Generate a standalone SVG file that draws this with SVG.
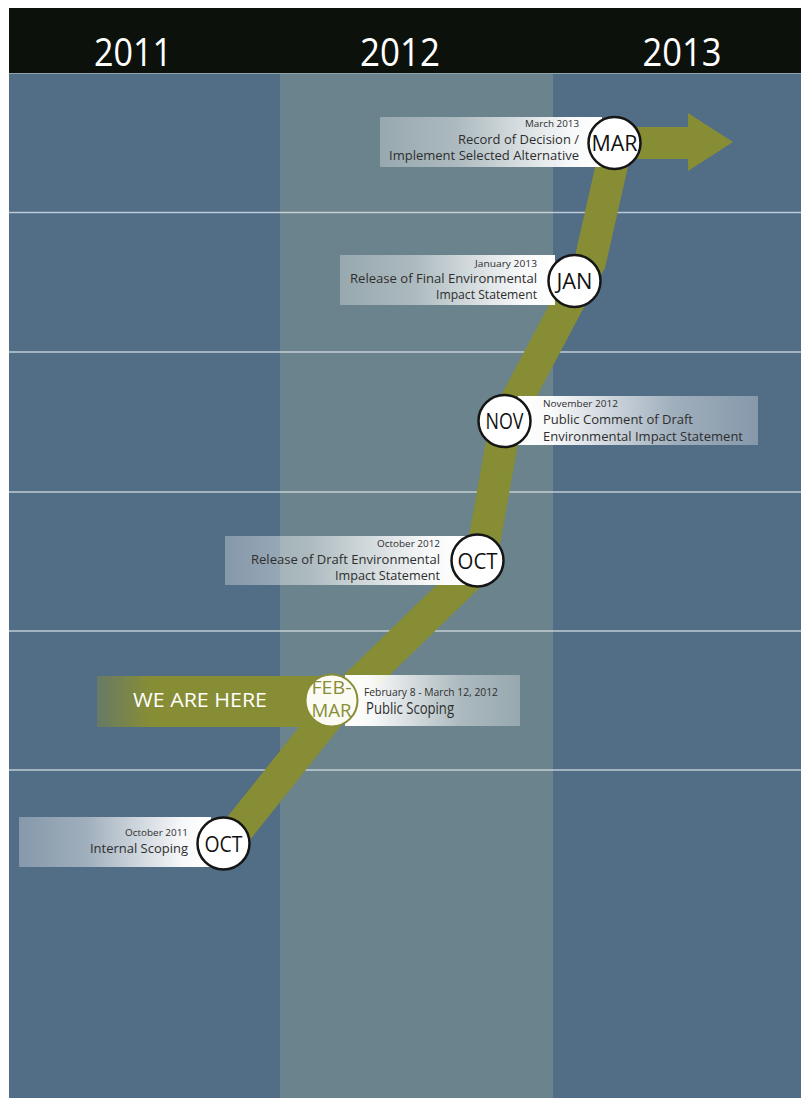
<svg xmlns="http://www.w3.org/2000/svg" width="801" height="1098" viewBox="0 0 801 1098">
  <defs>
    <!-- label panels: fade towards the side away from the milestone circle -->
    <linearGradient id="fadeL" x1="0" y1="0" x2="1" y2="0">
      <stop offset="0" stop-color="#ffffff" stop-opacity="0.3"/>
      <stop offset="0.35" stop-color="#ffffff" stop-opacity="0.45"/>
      <stop offset="0.85" stop-color="#ffffff" stop-opacity="0.95"/>
      <stop offset="1" stop-color="#ffffff" stop-opacity="1"/>
    </linearGradient>
    <linearGradient id="fadeR" x1="1" y1="0" x2="0" y2="0">
      <stop offset="0" stop-color="#ffffff" stop-opacity="0.3"/>
      <stop offset="0.35" stop-color="#ffffff" stop-opacity="0.45"/>
      <stop offset="0.85" stop-color="#ffffff" stop-opacity="0.95"/>
      <stop offset="1" stop-color="#ffffff" stop-opacity="1"/>
    </linearGradient>
    <linearGradient id="hereFade" x1="0" y1="0" x2="1" y2="0">
      <stop offset="0" stop-color="#878d35" stop-opacity="0.4"/>
      <stop offset="0.22" stop-color="#878d35" stop-opacity="1"/>
      <stop offset="1" stop-color="#878d35" stop-opacity="1"/>
    </linearGradient>
  </defs>
  <style>
    text { font-family: "Open Sans", "Liberation Sans", sans-serif; }
    .yr { font-size: 38px; fill: #ffffff; text-anchor: middle; }
    .sm { font-size: 9px; fill: #2e2e2e; }
    .lb { font-size: 13.5px; fill: #2e2e2e; }
    .r { text-anchor: end; }
    .mo { font-size: 22px; fill: #111111; text-anchor: middle; }
    .ring { fill: #ffffff; stroke: #151515; stroke-width: 2.5; }
    .grid { stroke: #d3dce2; stroke-width: 1.5; opacity: 0.85; }
  </style>

  <!-- year columns -->
  <rect x="9" y="8" width="792" height="1090" fill="#526d86"/>
  <rect x="280" y="73" width="273" height="1025" fill="#6a838c"/>
  <rect x="9" y="8" width="792" height="65" fill="#0c110b"/>
  <line x1="9" y1="73.5" x2="801" y2="73.5" stroke="#8fa3ad" stroke-width="1"/>

  <g id="years">
    <text class="yr" x="133" y="66" textLength="78" lengthAdjust="spacingAndGlyphs">2011</text>
    <text class="yr" x="400" y="66" textLength="80" lengthAdjust="spacingAndGlyphs">2012</text>
    <text class="yr" x="682" y="66" textLength="79" lengthAdjust="spacingAndGlyphs">2013</text>
  </g>

  <!-- row rules -->
  <g id="rows">
    <line class="grid" x1="9" y1="212.5" x2="801" y2="212.5"/>
    <line class="grid" x1="9" y1="352" x2="801" y2="352"/>
    <line class="grid" x1="9" y1="492" x2="801" y2="492"/>
    <line class="grid" x1="9" y1="631" x2="801" y2="631"/>
    <line class="grid" x1="9" y1="770" x2="801" y2="770"/>
  </g>

  <!-- timeline path -->
  <g id="connectors">
    <rect x="97" y="676" width="240" height="51" fill="url(#hereFade)"/>
    <path d="M227,843 L341,700 L480,565 L506,420 L590,262 L617,143 L690,143" fill="none" stroke="#878d35" stroke-width="32" stroke-linejoin="miter"/>
    <polygon points="688,113 733,142 688,171" fill="#878d35"/>
  </g>

  <g id="node-mar2013">
    <rect x="380" y="117" width="222" height="50" fill="url(#fadeL)"/>
    <text class="sm r" x="579" y="127" textLength="54" lengthAdjust="spacingAndGlyphs">March 2013</text>
    <text class="lb r" x="579" y="143.5" textLength="121" lengthAdjust="spacingAndGlyphs">Record of Decision /</text>
    <text class="lb r" x="579" y="160" textLength="190" lengthAdjust="spacingAndGlyphs">Implement Selected Alternative</text>
    <circle class="ring" cx="614.5" cy="143" r="26"/>
    <text class="mo" x="614.5" y="151" textLength="46" lengthAdjust="spacingAndGlyphs">MAR</text>
  </g>

  <g id="node-jan2013">
    <rect x="340" y="255" width="215" height="50" fill="url(#fadeL)"/>
    <text class="sm r" x="537" y="267" textLength="62" lengthAdjust="spacingAndGlyphs">January 2013</text>
    <text class="lb r" x="537" y="282.5" textLength="187" lengthAdjust="spacingAndGlyphs">Release of Final Environmental</text>
    <text class="lb r" x="537" y="299" textLength="101" lengthAdjust="spacingAndGlyphs">Impact Statement</text>
    <circle class="ring" cx="574.5" cy="281" r="26"/>
    <text class="mo" x="574.5" y="289" textLength="36" lengthAdjust="spacingAndGlyphs">JAN</text>
  </g>

  <g id="node-nov2012">
    <rect x="518" y="396" width="240" height="49" fill="url(#fadeR)"/>
    <text class="sm" x="543" y="407" textLength="75" lengthAdjust="spacingAndGlyphs">November 2012</text>
    <text class="lb" x="543" y="423.5" textLength="150" lengthAdjust="spacingAndGlyphs">Public Comment of Draft</text>
    <text class="lb" x="543" y="441" textLength="200" lengthAdjust="spacingAndGlyphs">Environmental Impact Statement</text>
    <circle class="ring" cx="504.5" cy="421" r="26"/>
    <text class="mo" x="504.5" y="429" textLength="38" lengthAdjust="spacingAndGlyphs">NOV</text>
  </g>

  <g id="node-oct2012">
    <rect x="225" y="536" width="240" height="49" fill="url(#fadeL)"/>
    <text class="sm r" x="440" y="547" textLength="63" lengthAdjust="spacingAndGlyphs">October 2012</text>
    <text class="lb r" x="440" y="563.5" textLength="189" lengthAdjust="spacingAndGlyphs">Release of Draft Environmental</text>
    <text class="lb r" x="440" y="580" textLength="105" lengthAdjust="spacingAndGlyphs">Impact Statement</text>
    <circle class="ring" cx="477.5" cy="560.5" r="26"/>
    <text class="mo" x="477.5" y="568.5" textLength="40" lengthAdjust="spacingAndGlyphs">OCT</text>
  </g>

  <g id="node-febmar2012">
    <rect x="345" y="675" width="175" height="51" fill="url(#fadeR)"/>
    <text x="133" y="707" font-size="20" fill="#ffffff" textLength="134" lengthAdjust="spacingAndGlyphs">WE ARE HERE</text>
    <text x="364" y="696" font-size="10.5" fill="#2e2e2e" textLength="134" lengthAdjust="spacingAndGlyphs">February 8 - March 12, 2012</text>
    <text x="366" y="714" font-size="16" fill="#2e2e2e" textLength="88" lengthAdjust="spacingAndGlyphs">Public Scoping</text>
    <circle cx="331.5" cy="700.5" r="26" fill="#fbfbf4" stroke="#878d35" stroke-width="2"/>
    <text x="331.5" y="694" font-size="18" fill="#878d35" text-anchor="middle" textLength="40" lengthAdjust="spacingAndGlyphs">FEB-</text>
    <text x="331.5" y="717" font-size="18" fill="#878d35" text-anchor="middle" textLength="40" lengthAdjust="spacingAndGlyphs">MAR</text>
  </g>

  <g id="node-oct2011">
    <rect x="19" y="817" width="192" height="50" fill="url(#fadeL)"/>
    <text class="sm r" x="188" y="836" textLength="63" lengthAdjust="spacingAndGlyphs">October 2011</text>
    <text class="lb r" x="188" y="853" textLength="98" lengthAdjust="spacingAndGlyphs">Internal Scoping</text>
    <circle class="ring" cx="223.5" cy="843.5" r="26"/>
    <text class="mo" x="223.5" y="851.5" textLength="38" lengthAdjust="spacingAndGlyphs">OCT</text>
  </g>
</svg>
